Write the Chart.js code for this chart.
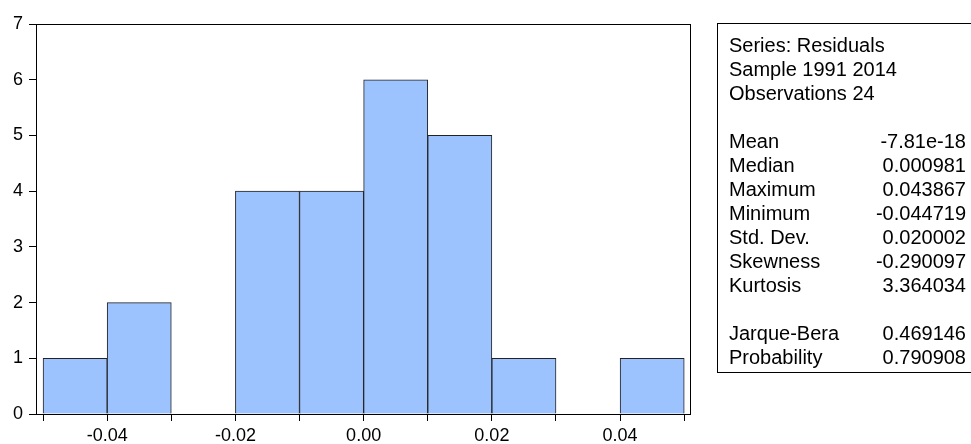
<!DOCTYPE html>
<html>
<head>
<meta charset="utf-8">
<script src="https://cdn.jsdelivr.net/npm/chart.js@4.4.1/dist/chart.umd.min.js"></script>
<style>
  body { margin: 0; background: #fff; }
  #wrap { position: relative; width: 971px; height: 444px; overflow: hidden; }
  #stats {
    position: absolute; left: 717px; top: 23px; width: 300px; height: 350px;
    border: 1px solid #000; box-sizing: border-box;
    font-family: "Liberation Sans", Arial, sans-serif; font-size: 20px; line-height: 24px; color: #000;
    padding-top: 9px;
  }
  #stats .row { position: relative; height: 24px; white-space: nowrap; }
  #stats .lab { position: absolute; left: 11px; }
  #stats .val { position: absolute; right: 50px; }
</style>
</head>
<body>
<div id="wrap">
  <canvas id="hist" width="971" height="444"></canvas>
  <div id="stats"></div>
</div>
<script>
// histogram bins (width 0.01) and counts
var binStarts = [-0.05, -0.04, -0.03, -0.02, -0.01, 0.00, 0.01, 0.02, 0.03, 0.04];
var counts = [1, 2, 0, 4, 4, 6, 5, 1, 0, 1];
var binWidth = 0.01;

// tick labels
var xTickLabels = [-0.04, -0.02, 0.00, 0.02, 0.04];
var yTicks = [0, 1, 2, 3, 4, 5, 6, 7];

// stats box
var headerLines = ["Series: Residuals", "Sample 1991 2014", "Observations 24"];
var statNames = ["Mean", "Median", "Maximum", "Minimum", "Std. Dev.", "Skewness", "Kurtosis"];
var statValues = ["-7.81e-18", "0.000981", "0.043867", "-0.044719", "0.020002", "-0.290097", "3.364034"];
var testNames = ["Jarque-Bera", "Probability"];
var testValues = ["0.469146", "0.790908"];

var box = document.getElementById("stats");
function addRow(lab, val) {
  var r = document.createElement("div");
  r.className = "row";
  if (lab !== undefined) {
    var a = document.createElement("span");
    a.className = "lab";
    a.textContent = lab;
    r.appendChild(a);
  }
  if (val !== undefined) {
    var b = document.createElement("span");
    b.className = "val";
    b.textContent = val;
    r.appendChild(b);
  }
  box.appendChild(r);
}
headerLines.forEach(function (h) { addRow(h); });
addRow();
statNames.forEach(function (n, i) { addRow(n, statValues[i]); });
addRow();
testNames.forEach(function (n, i) { addRow(n, testValues[i]); });

var points = binStarts.map(function (s, i) {
  return { x: s + binWidth / 2, y: counts[i] };
});
var edges = binStarts.concat([binStarts[binStarts.length - 1] + binWidth]);

// frame round the plot area
var framePlugin = {
  id: 'frame',
  afterDraw: function (chart) {
    var a = chart.chartArea;
    var ctx = chart.ctx;
    ctx.save();
    ctx.strokeStyle = '#000';
    ctx.lineWidth = 1;
    ctx.strokeRect(Math.round(a.left) + 0.5, Math.round(a.top) + 0.5,
      Math.round(a.right - a.left), Math.round(a.bottom - a.top));
    ctx.restore();
  }
};

var fnt = { family: "'Liberation Sans', Arial, sans-serif", size: 18 };

new Chart(document.getElementById("hist"), {
  type: 'bar',
  data: {
    datasets: [{
      data: points,
      backgroundColor: '#9dc3ff',
      borderColor: '#222',
      borderWidth: 1,
      borderSkipped: 'bottom',
      barPercentage: 1,
      categoryPercentage: 1
    }]
  },
  options: {
    responsive: false,
    animation: false,
    layout: { padding: { top: 24, right: 281, left: 0, bottom: 0 } },
    plugins: { legend: { display: false }, tooltip: { enabled: false } },
    scales: {
      x: {
        type: 'linear',
        offset: false,
        min: -0.0511,
        max: 0.0509,
        afterBuildTicks: function (scale) {
          scale.ticks = edges.map(function (v) { return { value: v }; });
        },
        afterFit: function (scale) { scale.height = 30; },
        ticks: {
          autoSkip: false,
          maxRotation: 0,
          padding: 4,
          color: '#000',
          font: fnt,
          callback: function (v) {
            for (var i = 0; i < xTickLabels.length; i++) {
              if (Math.abs(v - xTickLabels[i]) < 1e-9) return xTickLabels[i].toFixed(2);
            }
            return '';
          }
        },
        grid: { offset: false, drawOnChartArea: false, drawTicks: true, tickLength: 7, color: '#000' },
        border: { color: '#000' }
      },
      y: {
        min: 0,
        max: 7,
        afterBuildTicks: function (scale) {
          scale.ticks = yTicks.map(function (v) { return { value: v }; });
        },
        afterFit: function (scale) { scale.width = 36; },
        ticks: { padding: 6, color: '#000', font: fnt },
        grid: { drawOnChartArea: false, drawTicks: true, tickLength: 7, color: '#000' },
        border: { color: '#000' }
      }
    }
  },
  plugins: [framePlugin]
});
</script>
</body>
</html>
